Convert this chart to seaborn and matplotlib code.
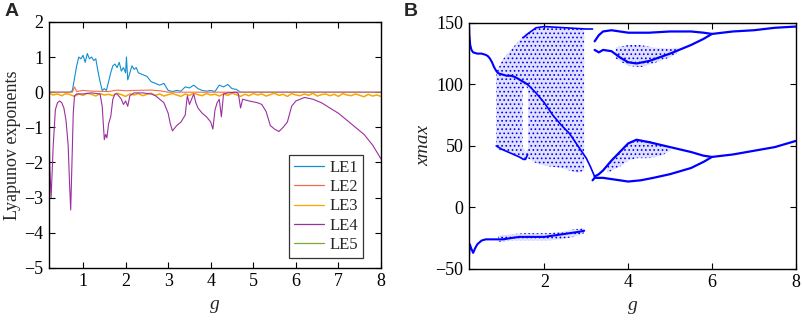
import numpy as np
import pandas as pd
import matplotlib
matplotlib.use('Agg')
import matplotlib.pyplot as plt
import seaborn as sns

# ---- panel A: Lyapunov exponents ----
le1_g = [0.2, 0.7, 0.75, 0.8, 0.85, 0.9, 0.95, 1.0, 1.05, 1.1,
         1.15, 1.2, 1.25, 1.3, 1.35, 1.4, 1.45, 1.5, 1.55, 1.6,
         1.65, 1.7, 1.75, 1.8, 1.85, 1.9, 1.95, 2.0, 2.02, 2.05,
         2.1, 2.15, 2.2, 2.25, 2.3, 2.4, 2.5, 2.6, 2.7, 2.8,
         2.9, 3.0, 3.1, 3.2, 3.3, 3.4, 3.5, 3.6, 3.7, 3.8,
         3.9, 4.0, 4.1, 4.2, 4.3, 4.4, 4.5, 4.6, 4.7, 5.0, 8.0]
le1 = [0, 0, 0.05, 0.4, 0.75, 1.0, 0.95, 1.05, 0.85, 1.1,
       0.95, 1.0, 0.9, 0.95, 0.6, 0.3, 0.05, 0.1, 0.05, 0.3,
       0.55, 0.75, 0.8, 0.7, 0.85, 0.6, 0.7, 0.55, 1.0, 0.35,
       0.55, 0.75, 0.65, 0.7, 0.55, 0.5, 0.45, 0.3, 0.25, 0.2,
       0.25, 0.05, 0.02, 0.05, 0.03, 0.15, 0.12, 0.2, 0.1, 0.05,
       0.03, 0.05, 0.02, 0.2, 0.15, 0.22, 0.1, 0.08, 0, 0, 0]

le2_g = [0.2, 0.75, 0.8, 0.85, 1.0, 1.2, 1.6, 1.8, 2.0, 2.2, 2.6, 2.8, 3.0, 8.0]
le2 = [0, 0, 0.15, 0.02, 0.05, 0.03, 0.02, 0.06, 0.04, 0.05, 0.06, 0.04, 0.0, 0.0]

le3_g = np.round(np.arange(0.2, 8.01, 0.1), 1)
le3 = [-0.03, -0.08, -0.05, -0.10, -0.04, -0.07, -0.12, -0.05, -0.09, -0.03,
       -0.06, -0.11, -0.04, -0.08, -0.06, -0.10, -0.03, -0.07, -0.12, -0.05,
       -0.08, -0.04, -0.10, -0.06, -0.03, -0.09, -0.05, -0.11, -0.07, -0.04,
       -0.08, -0.12, -0.05, -0.09, -0.03, -0.07, -0.10, -0.04, -0.08, -0.06,
       -0.11, -0.05, -0.09, -0.03, -0.07, -0.12, -0.06, -0.10, -0.04, -0.08,
       -0.05, -0.11, -0.07, -0.03, -0.09, -0.06, -0.12, -0.04, -0.08, -0.10,
       -0.05, -0.09, -0.03, -0.11, -0.07, -0.05, -0.10, -0.06, -0.12, -0.04,
       -0.08, -0.10, -0.05, -0.09, -0.13, -0.06, -0.11, -0.08, -0.12]

le4_g = [0.2, 0.22, 0.25, 0.3, 0.35, 0.4, 0.45, 0.5, 0.55, 0.6,
         0.65, 0.68, 0.71, 0.74, 0.77, 0.8, 0.85, 1.0, 1.2, 1.4,
         1.45, 1.5, 1.53, 1.56, 1.6, 1.65, 1.7, 1.75, 1.8, 1.9,
         1.95, 2.0, 2.05, 2.1, 2.2, 2.4, 2.6, 2.7, 2.8, 2.9,
         3.0, 3.05, 3.1, 3.2, 3.3, 3.4, 3.45, 3.5, 3.6, 3.65,
         3.7, 3.8, 3.9, 4.0, 4.05, 4.1, 4.15, 4.2, 4.25, 4.3,
         4.4, 4.6, 4.65, 4.7, 4.75, 4.9, 5.1, 5.2, 5.3, 5.4,
         5.5, 5.6, 5.7, 5.8, 5.9, 6.0, 6.2, 6.4, 6.6, 6.8,
         7.0, 7.2, 7.4, 7.6, 7.8, 8.0]
le4 = [-1.0, -2.2, -3.0, -1.5, -0.5, -0.3, -0.25, -0.3, -0.45, -0.8,
       -1.5, -2.5, -3.35, -2.0, -0.6, -0.1, -0.05, -0.05, -0.02, -0.05,
       -0.4, -1.35, -1.2, -1.3, -0.9, -0.7, -0.2, -0.05, -0.05, -0.2,
       -0.35, -0.25, -0.4, -0.1, -0.02, -0.02, -0.05, -0.1, -0.2, -0.3,
       -0.6, -0.9, -1.1, -0.95, -0.85, -0.65, -0.1, -0.35, -0.05, -0.3,
       -0.45, -0.6, -0.7, -0.85, -1.05, -0.5, -0.3, -0.2, -0.7, -0.05,
       -0.02, 0.0, -0.05, -0.45, -0.2, -0.25, -0.3, -0.35, -0.55, -0.95,
       -1.05, -1.12, -1.0, -0.85, -0.4, -0.25, -0.15, -0.2, -0.3, -0.45,
       -0.6, -0.8, -1.0, -1.2, -1.5, -1.9]

# LE5 lies below the plotted range
le5_g = [0.2, 8.0]
le5 = [-9.0, -9.0]

# ---- panel B: bifurcation diagram (xmax vs g) ----
top_g = [0.2, 0.21, 0.23, 0.26, 0.3, 0.4, 0.5, 0.6, 0.65, 0.7, 0.75, 0.8,
         0.85, 0.9, 1.0, 1.1, 1.2, 1.3, 1.4, 1.5, 1.55, 1.6]
top_x = [150, 140, 132, 128, 126, 125, 125, 124, 123, 121, 118, 114,
         111, 109, 108, 107, 107, 106, 104, 102, 101, 100]

neg_g = [0.2, 0.22, 0.25, 0.3, 0.35, 0.4, 0.5, 0.6, 0.8, 1.0, 1.2, 1.4,
         1.6, 1.8, 2.0, 2.2, 2.4, 2.6, 2.8, 2.95]
neg_x = [-40, -30, -33, -37, -33, -30, -27, -26, -26, -26, -25, -24,
         -24, -24, -24, -23, -22, -21, -20, -19]
negband_g = [0.9, 1.2, 1.5, 1.8, 2.1, 2.4, 2.7, 2.95]
negband_lo = [-28, -27, -27, -27, -27, -26, -24, -21]
negband_hi = [-23, -22, -21, -21, -21, -20, -18, -17]

chaos_g = [0.85, 0.9, 1.0, 1.2, 1.4, 1.5, 1.6, 1.8, 2.0, 2.2, 2.4, 2.6, 2.8, 2.95]
chaos_lo = [48, 47, 46, 44, 41, 39, 40, 36, 34, 33, 32, 30, 28, 30]
chaos_hi = [110, 113, 120, 128, 136, 140, 142, 146, 147, 147, 146, 146, 145, 145]
gap_g = [1.47, 1.53, 1.6]
gap_lo = [50, 45, 48]
gap_hi = [95, 100, 96]

edge_lo_g = [0.85, 1.0, 1.2, 1.4, 1.5, 1.55, 1.6]
edge_lo_x = [50, 47, 44, 41, 39, 39, 43]
edge_hi_g = [1.5, 1.6, 1.8, 2.0, 2.5, 3.0, 3.15]
edge_hi_x = [138, 141, 146, 147, 146, 145, 145]
diag_g = [1.6, 1.8, 2.0, 2.2, 2.4, 2.6, 2.8, 3.0, 3.1, 3.2]
diag_x = [100, 93, 85, 75, 67, 60, 50, 40, 33, 25]

up1_g = [3.2, 3.3, 3.4, 3.6, 3.8, 4.0, 4.5, 5.0, 5.5, 5.8, 6.0, 6.5, 7.0, 7.5, 8.0]
up1_x = [135, 140, 143, 144, 143, 142, 142, 143, 143, 142, 141, 143, 144, 146, 147]
up2_g = [3.2, 3.3, 3.4, 3.6, 3.8, 4.0, 4.2, 4.5, 5.0, 5.5, 5.8, 6.0]
up2_x = [128, 126, 128, 127, 122, 118, 117, 119, 125, 132, 137, 141]
upband_g = [3.7, 4.0, 4.3, 4.6, 5.0, 5.2]
upband_lo = [121, 115, 114, 117, 122, 126]
upband_hi = [130, 132, 132, 130, 129, 130]

lo1_g = [3.15, 3.2, 3.4, 3.6, 3.8, 4.0, 4.3, 4.6, 5.0, 5.5, 5.8, 6.0, 6.5, 7.0, 7.5, 8.0]
lo1_x = [22, 24, 24, 23, 22, 21, 22, 24, 27, 32, 37, 41, 43, 46, 49, 54]
lo2_g = [3.2, 3.3, 3.4, 3.6, 3.8, 4.0, 4.2, 4.5, 5.0, 5.5, 5.8, 6.0]
lo2_x = [25, 27, 30, 38, 45, 52, 55, 53, 49, 45, 42, 41]
loband_g = [3.5, 3.8, 4.0, 4.2, 4.5, 4.8, 5.0]
loband_lo = [28, 33, 38, 40, 40, 42, 46]
loband_hi = [34, 45, 52, 55, 54, 51, 49]

sns.set_style('ticks')
plt.rcParams['font.family'] = ['Liberation Serif', 'DejaVu Serif']
plt.rcParams['hatch.linewidth'] = 0.7
plt.rcParams['xtick.direction'] = 'in'
plt.rcParams['ytick.direction'] = 'in'

fig = plt.figure(figsize=(8.03, 3.22), dpi=100)
axA = fig.add_axes([0.061, 0.168, 0.4135, 0.764])
axB = fig.add_axes([0.584, 0.165, 0.407, 0.764])

colors = ['#108FD0', '#F26B4F', '#F5A800', '#9B30A0', '#77AC30']
widths = [0.8, 0.8, 1.1, 0.8, 0.8]
series = [(le1_g, le1, 'LE1'), (le2_g, le2, 'LE2'), (le3_g, le3, 'LE3'),
          (le4_g, le4, 'LE4'), (le5_g, le5, 'LE5')]
for (gx, vals, name), c, w in zip(series, colors, widths):
    sns.lineplot(x=gx, y=vals, ax=axA, color=c, lw=w, label=name,
                 sort=False, estimator=None)

axA.set_xlim(0.2, 8)
axA.set_ylim(-5, 2)
axA.set_xticks(range(1, 9))
axA.set_yticks(range(-5, 3))
axA.set_xlabel('g', fontsize=14, style='italic', labelpad=4)
axA.set_ylabel('Lyapunov exponents', fontsize=13, labelpad=2)
leg = axA.legend(loc='lower right', fontsize=12, frameon=True, fancybox=False,
                 handlelength=1.8, borderpad=0.3, labelspacing=0.2,
                 handletextpad=0.3, borderaxespad=0, bbox_to_anchor=(0.945, 0.04))
leg.get_frame().set_edgecolor('black')
leg.get_frame().set_linewidth(0.9)
for h in leg.get_lines():
    h.set_linewidth(0.9)

blue = '#0000FF'
# chaotic bands: light wash plus dotted hatch
for gx, lo, hi in [(chaos_g, chaos_lo, chaos_hi), (negband_g, negband_lo, negband_hi),
                   (upband_g, upband_lo, upband_hi), (loband_g, loband_lo, loband_hi)]:
    axB.fill_between(gx, lo, hi, facecolor=(0.35, 0.35, 1.0, 0.18), edgecolor=blue,
                     hatch='....', linewidth=0)
axB.fill_between(gap_g, gap_lo, gap_hi, facecolor='white', linewidth=0)

for gx, xv, w in [(top_g, top_x, 1.5), (neg_g, neg_x, 1.5),
                  (edge_lo_g, edge_lo_x, 1.2), (edge_hi_g, edge_hi_x, 1.2),
                  (diag_g, diag_x, 1.2), (up1_g, up1_x, 1.6), (up2_g, up2_x, 1.6),
                  (lo1_g, lo1_x, 1.6), (lo2_g, lo2_x, 1.6)]:
    sns.lineplot(x=gx, y=xv, ax=axB, color=blue, lw=w, sort=False, estimator=None)

axB.set_xlim(0.2, 8)
axB.set_ylim(-50, 150)
axB.set_xticks([2, 4, 6, 8])
axB.set_yticks([-50, 0, 50, 100, 150])
axB.set_xlabel('g', fontsize=14, style='italic', labelpad=4)
axB.set_ylabel('xmax', fontsize=14, style='italic', labelpad=2)

for ax in (axA, axB):
    ax.tick_params(labelsize=13, length=4, width=0.8, top=True, right=True,
                   color='black', labelcolor='black', pad=4)
    for s in ax.spines.values():
        s.set_visible(True)
        s.set_linewidth(1.0)
        s.set_color('black')

fig.text(0.006, 0.99, 'A', fontsize=14, fontweight='bold', va='top',
         family=['Liberation Sans', 'DejaVu Sans'])
fig.text(0.503, 0.99, 'B', fontsize=14, fontweight='bold', va='top',
         family=['Liberation Sans', 'DejaVu Sans'])

fig.savefig('out.png', dpi=100)
